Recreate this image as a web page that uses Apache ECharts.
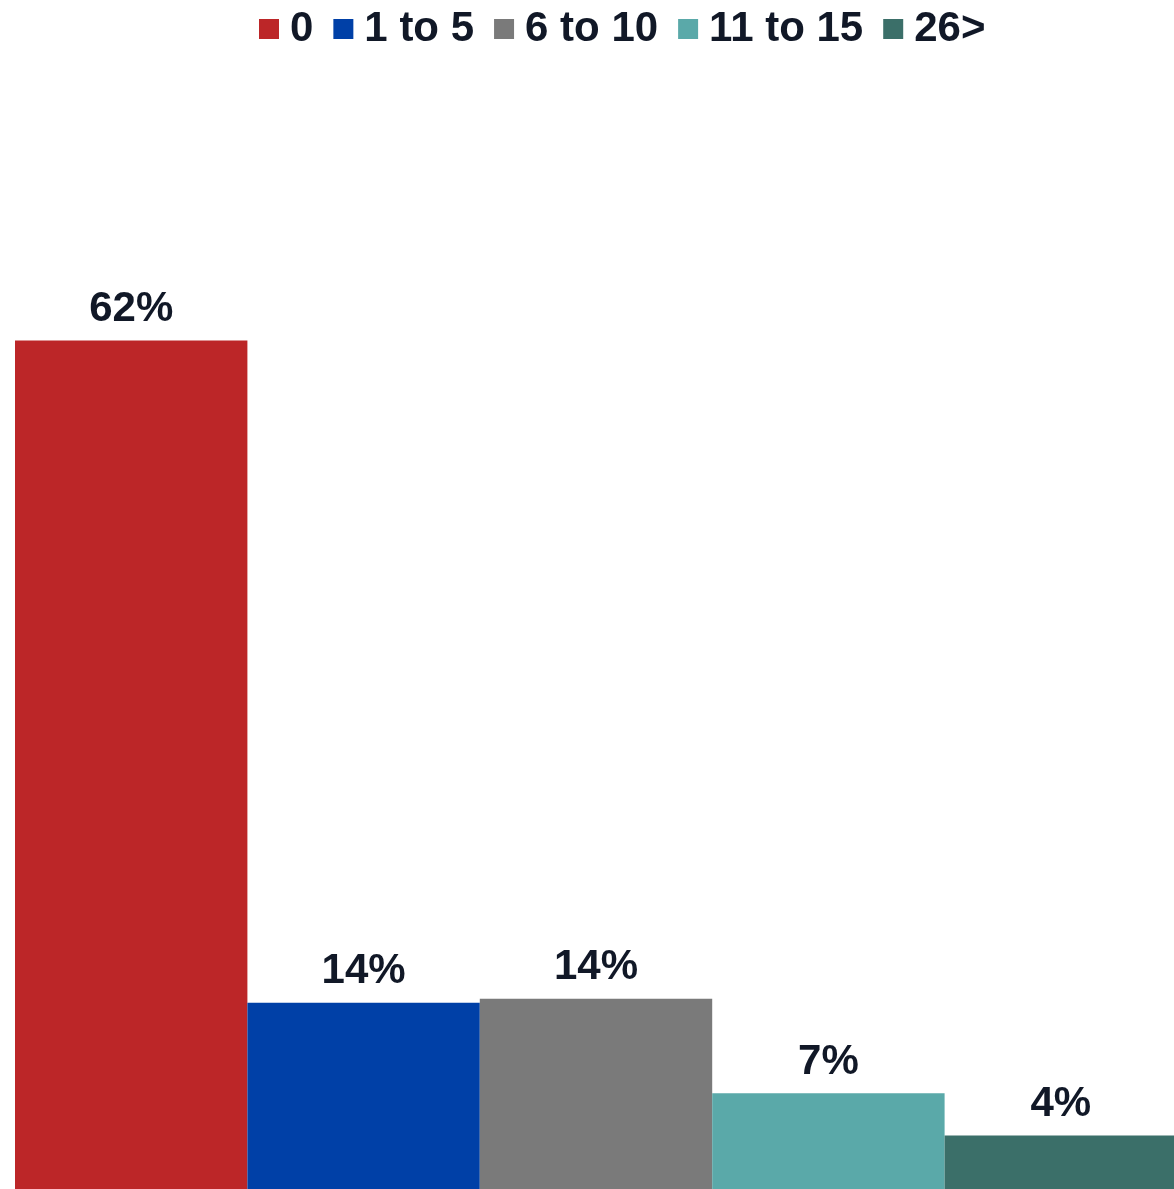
<!DOCTYPE html>
<html>
<head>
<meta charset="utf-8">
<title>Distribution</title>
<script src="https://cdn.jsdelivr.net/npm/echarts@6/dist/echarts.min.js"></script>
<style>
  html, body { margin: 0; padding: 0; background: #ffffff; overflow: hidden; }
  #chart { width: 1177px; height: 1189px; }
</style>
</head>
<body>
<div id="chart"></div>
<script>
// Groups and their shares (percent)
const groups = ['0', '1 to 5', '6 to 10', '11 to 15', '26>'];
const shares = [62, 13.6, 13.9, 7.0, 3.9];
const groupColors = ['#BC2628', '#0040A7', '#7A7A7A', '#5AA9A9', '#3B6F69'];

const FONT = '"Liberation Sans", Arial, Helvetica, sans-serif';
const TEXT_COLOR = '#111827';

const chart = echarts.init(document.getElementById('chart'), null, { renderer: 'canvas' });

const series = groups.map((name, i) => ({
  name: name,
  type: 'bar',
  data: [shares[i]],
  barGap: '0%',
  barCategoryGap: '0%',
  itemStyle: { color: groupColors[i] },
  label: {
    show: true,
    position: 'top',
    distance: 10,
    fontFamily: FONT,
    fontWeight: 'bold',
    fontSize: 42,
    color: TEXT_COLOR,
    formatter: p => Math.round(p.value) + '%'
  }
}));

chart.setOption({
  animation: false,
  backgroundColor: '#ffffff',
  legend: {
    data: groups,
    left: 259,
    top: 8,
    padding: 0,
    itemWidth: 20,
    itemHeight: 20,
    itemGap: 20,
    icon: 'rect',
    textStyle: {
      fontFamily: FONT,
      fontWeight: 'bold',
      fontSize: 42,
      color: TEXT_COLOR,
      padding: [0, 0, 0, 6]
    }
  },
  grid: { left: 15, right: 0, top: 94, bottom: 0, containLabel: false },
  xAxis: {
    type: 'category',
    data: [''],
    show: false
  },
  yAxis: {
    type: 'value',
    min: 0,
    max: 80,
    show: false,
    splitLine: { show: false }
  },
  series: series
});
</script>
</body>
</html>
